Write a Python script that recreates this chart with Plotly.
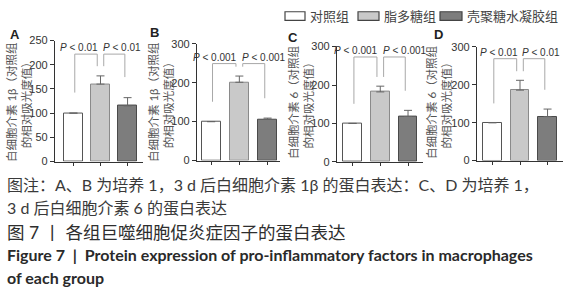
import plotly.graph_objects as go

# ---------------- data ----------------
groups = ["对照组", "脂多糖组", "壳聚糖水凝胶组"]
panel_letters = ["A", "B", "C", "D"]
a_vals = [100, 160, 115]
a_err = [0, 17, 17]
b_vals = [100, 201, 106]
b_err = [0, 16, 3]
c_vals = [100, 182, 118]
c_err = [0, 15, 16]
d_vals = [100, 186, 116]
d_err = [0, 26, 20]
y_titles = ["白细胞介素 1β（对照组<br>的相对吸光度值）",
            "白细胞介素 1β（对照组<br>的相对吸光度值）",
            "白细胞介素 6（对照组<br>的相对吸光度值）",
            "白细胞介素 6（对照组<br>的相对吸光度值）"]
y_max = [250, 300, 300, 300]
y_dtick = [50, 100, 100, 100]
p_labels = [["P < 0.01", "P < 0.01"],
            ["P < 0.001", "P < 0.001"],
            ["P < 0.001", "P < 0.001"],
            ["P < 0.01", "P < 0.01"]]
caption_lines = [
    "图注：A、B 为培养 1，3 d 后白细胞介素 1β 的蛋白表达：C、D 为培养 1，",
    "3 d 后白细胞介素 6 的蛋白表达",
    "图 7 丨 各组巨噬细胞促炎症因子的蛋白表达",
    "<b>Figure 7  |  Protein expression of pro-inflammatory factors in macrophages</b>",
    "<b>of each group</b>",
]

values = [a_vals, b_vals, c_vals, d_vals]
errors = [a_err, b_err, c_err, d_err]

# ---------------- layout constants ----------------
W, H = 576, 300
def px_x(x):
    return x / W
def px_y(y):
    return 1 - y / H

x_domains = [(55, 143), (197, 280), (337, 423), (477, 563)]
y_domains = [(162, 36), (161, 39.3), (162.3, 42.3), (161, 42.7)]
x_ranges = [(-0.68, 2.57), (-0.5, 2.44), (-0.56, 2.54), (-0.56, 2.56)]
bracket_frac = [0.888, 0.83, 0.91, 0.897]
letter_pos = [(15, 30), (154, 28), (293, 33), (438, 30)]
title_x = [19, 161, 301, 439]

fill_colors = ["#ffffff", "#c9c9c9", "#7d7d7d"]
line_colors = ["#555555", "#8a8a8a", "#4a4a4a"]
tick_font = dict(family="Liberation Sans, Arial, sans-serif", size=11, color="#333333")
cjk = "Lato, Noto Sans CJK SC, sans-serif"

fig = go.Figure()
shapes = []
annotations = []

for i in range(4):
    xa = "x" if i == 0 else f"x{i+1}"
    ya = "y" if i == 0 else f"y{i+1}"
    fig.add_trace(go.Bar(
        x=[0, 1, 2], y=values[i], width=0.68,
        marker=dict(color=fill_colors, line=dict(color=line_colors, width=1)),
        error_y=dict(type="data", symmetric=False, array=errors[i],
                     arrayminus=[0, 0, 0], color="#666666", thickness=1, width=4),
        xaxis=xa, yaxis=ya, showlegend=False, hoverinfo="skip"))
    key = "" if i == 0 else str(i + 1)
    fig.update_layout(**{
        f"xaxis{key}": dict(domain=[px_x(x_domains[i][0]), px_x(x_domains[i][1])],
                            range=list(x_ranges[i]), anchor=ya,
                            showline=True, linecolor="#333333", linewidth=1.2,
                            ticks="outside", ticklen=3, tickcolor="#333333",
                            tickvals=[0, 1, 2], showticklabels=False,
                            showgrid=False, zeroline=False, fixedrange=True),
        f"yaxis{key}": dict(domain=[px_y(y_domains[i][0]), px_y(y_domains[i][1])],
                            range=[0, y_max[i]], anchor=xa, dtick=y_dtick[i],
                            showline=True, linecolor="#333333", linewidth=1.2,
                            ticks="outside", ticklen=4, tickcolor="#333333",
                            tickfont=tick_font, showgrid=False, zeroline=False,
                            fixedrange=True),
    })
    # significance brackets
    tops = [v + e for v, e in zip(values[i], errors[i])]
    rng = y_max[i]
    level = bracket_frac[i] * rng
    leg_end = [tops[0] + 0.17 * rng, tops[1] + 0.08 * rng, tops[2] + 0.17 * rng]
    pairs = [((0 + 0.05, leg_end[0]), (1 - 0.12, leg_end[1])),
             ((1 + 0.12, leg_end[1]), (2 - 0.1, leg_end[2]))]
    for j, ((xl, yl), (xr, yr)) in enumerate(pairs):
        for (x0, y0, x1, y1) in [(xl, yl, xl, level), (xl, level, xr, level), (xr, level, xr, yr)]:
            shapes.append(dict(type="line", xref=xa, yref=ya, x0=x0, y0=y0, x1=x1, y1=y1,
                               line=dict(color="#a8a8a8", width=1)))
        txt = p_labels[i][j].replace("P", "<i>P</i>", 1)
        annotations.append(dict(xref=xa, yref=ya,
                                x=xr if j == 0 else xl, y=level, yanchor="bottom",
                                xanchor="right" if j == 0 else "left",
                                text=txt, showarrow=False, yshift=-1,
                                xshift=3 if j == 0 else -3,
                                font=dict(family="Liberation Sans, Arial", size=10, color="#333333")))
    # panel letter
    annotations.append(dict(xref="paper", yref="paper", x=px_x(letter_pos[i][0]), y=px_y(letter_pos[i][1]),
                            text=f"<b>{panel_letters[i]}</b>", showarrow=False, xanchor="center",
                            yanchor="middle", font=dict(family="Liberation Sans, Arial", size=13, color="#222222")))
    # y title
    annotations.append(dict(xref="paper", yref="paper", x=px_x(title_x[i]), y=px_y(100),
                            text=y_titles[i], showarrow=False, textangle=-90, xanchor="center",
                            yanchor="middle", font=dict(family=cjk, size=11.5, color="#555555")))

# legend (decorative swatches + text)
legend_boxes = [(285, 305), (358, 379), (440, 462)]
legend_text_x = [308, 382, 465]
for k in range(3):
    shapes.append(dict(type="rect", xref="paper", yref="paper",
                       x0=px_x(legend_boxes[k][0]), x1=px_x(legend_boxes[k][1]),
                       y0=px_y(15), y1=px_y(6), fillcolor=fill_colors[k],
                       line=dict(color="#444444", width=1.2)))
    annotations.append(dict(xref="paper", yref="paper", x=px_x(legend_text_x[k]), y=px_y(10.5),
                            xanchor="left", yanchor="middle", text=groups[k], showarrow=False,
                            font=dict(family=cjk, size=13, color="#444444")))

# caption
cap_y = [186, 210, 236, 259, 283]
cap_sizes = [16, 16, 17.5, 16, 16]
cap_colors = ["#3a3a3a", "#3a3a3a", "#2e2e2e", "#2a2a2a", "#2a2a2a"]
for k, line in enumerate(caption_lines):
    annotations.append(dict(xref="paper", yref="paper", x=px_x(5), y=px_y(cap_y[k]),
                            xanchor="left", yanchor="middle", text=line, showarrow=False,
                            font=dict(family=cjk, size=cap_sizes[k], color=cap_colors[k])))

fig.update_layout(width=W, height=H, margin=dict(l=0, r=0, t=0, b=0),
                  paper_bgcolor="white", plot_bgcolor="white",
                  shapes=shapes, annotations=annotations, bargap=0)

fig.write_html("out.html", config={"displayModeBar": False},
               post_script="document.body.style.margin='0';")
